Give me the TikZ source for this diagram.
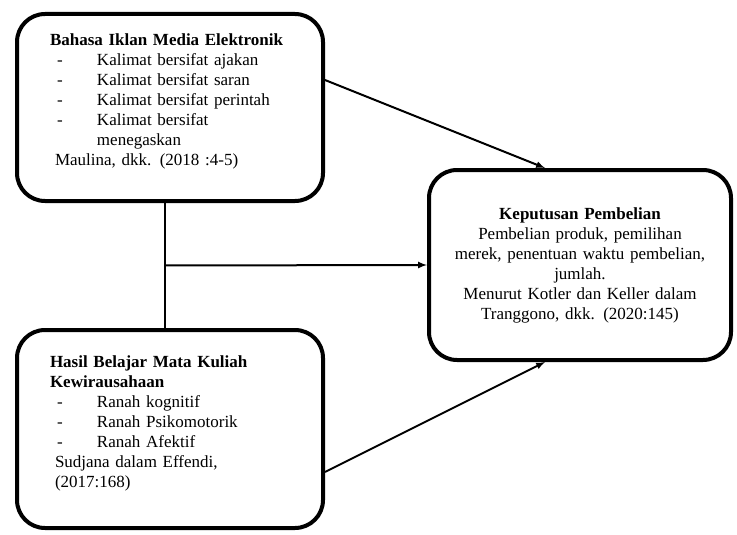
\documentclass[tikz,border=0pt]{standalone}
\usepackage{fontspec}
\setmainfont{Liberation Serif}
\usepackage{tikz}
\usetikzlibrary{positioning,arrows,calc}

\newcommand{\boxfont}{\fontsize{17pt}{20pt}\selectfont}

\tikzset{
  varbox/.style={rectangle, draw, line width=4pt, rounded corners=28pt,
    minimum width=306pt, text width=240pt, align=left, font=\boxfont},
  resbox/.style={rectangle, draw, line width=4pt, rounded corners=28pt,
    minimum width=302pt, minimum height=190pt, text width=262pt, align=center, font=\boxfont}
}

\begin{document}
\begin{tikzpicture}[x=1pt,y=1pt]
\useasboundingbox (0,0) rectangle (737,-535);
%% Nodes definition
\node[varbox, minimum height=187pt] (bahasa) at (170,-107.5) {%
  \begin{tabular}{@{}p{47pt}@{}l@{}}
  \multicolumn{2}{@{}l@{}}{\textbf{Bahasa Iklan Media Elektronik}}\\
  \hspace*{7pt}- & Kalimat bersifat ajakan\\
  \hspace*{7pt}- & Kalimat bersifat saran\\
  \hspace*{7pt}- & Kalimat bersifat perintah\\
  \hspace*{7pt}- & Kalimat bersifat\\
   & menegaskan\\
  \multicolumn{2}{@{\hspace{5pt}}l@{}}{Maulina, dkk. (2018 :4-5)}\\[12pt]
  \end{tabular}};
\node[varbox, minimum height=198pt, below = 125pt of bahasa] (hasil) {%
  \begin{tabular}{@{}p{47pt}@{}l@{}}
  \multicolumn{2}{@{}l@{}}{\textbf{Hasil Belajar Mata Kuliah}}\\
  \multicolumn{2}{@{}l@{}}{\textbf{Kewirausahaan}}\\
  \hspace*{7pt}- & Ranah kognitif\\
  \hspace*{7pt}- & Ranah Psikomotorik\\
  \hspace*{7pt}- & Ranah Afektif\\
  \multicolumn{2}{@{\hspace{5pt}}l@{}}{Sudjana dalam Effendi,}\\
  \multicolumn{2}{@{\hspace{5pt}}l@{}}{(2017:168)}\\[12pt]
  \end{tabular}};
\node[resbox] (keputusan) at (580,-265) {\textbf{Keputusan Pembelian}\\
  Pembelian produk, pemilihan\\
  merek, penentuan waktu pembelian,\\
  jumlah.\\
  Menurut Kotler dan Keller dalam\\
  Tranggono, dkk. (2020:145)};
\coordinate (junction) at ($(bahasa.south)!0.5!(hasil.north)+(-5,0)$);

%% Edges definition
\path[every edge/.append style={>=latex, line width=2pt}]
    ([xshift=-5pt]bahasa.south) edge ([xshift=-5pt]hasil.north)
    (junction) edge [->] (keputusan.west)
    ([yshift=27.5pt]bahasa.east) edge [->] ([xshift=-35pt]keputusan.north)
    ([yshift=-43pt]hasil.east) edge [->] ([xshift=-35pt]keputusan.south)
    ;
\end{tikzpicture}
\end{document}
